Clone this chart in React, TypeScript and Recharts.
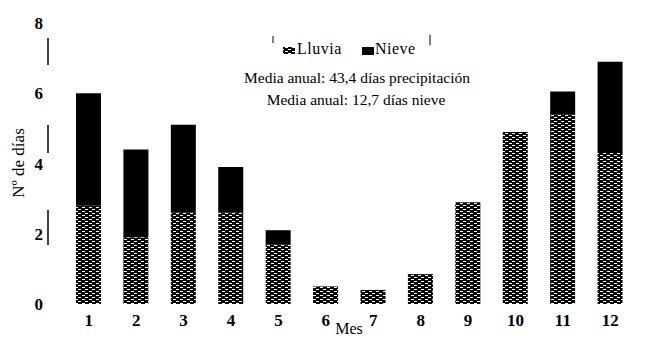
import React from 'react';
import { BarChart, Bar, XAxis, YAxis } from 'recharts';

const months = ['1', '2', '3', '4', '5', '6', '7', '8', '9', '10', '11', '12'];
const lluvia = [2.8, 1.9, 2.6, 2.6, 1.7, 0.5, 0.4, 0.85, 2.9, 4.9, 5.4, 4.3];
const nieve = [3.2, 2.5, 2.5, 1.3, 0.4, 0, 0, 0, 0, 0, 0.65, 2.6];
const yTicks = [0, 2, 4, 6, 8];
const seriesNames = ['Lluvia', 'Nieve'];
const note1 = 'Media anual: 43,4 días precipitación';
const note2 = 'Media anual: 12,7 días nieve';

const data = months.map((m, i) => ({ mes: m, Lluvia: lluvia[i], Nieve: nieve[i] }));

const FONT = '"Liberation Serif", "DejaVu Serif", serif';

const PatternDef = ({ id }: { id: string }) => (
  <pattern id={id} width={7} height={4} patternUnits="userSpaceOnUse">
    <rect x={0} y={0} width={7} height={4} fill="#050505" />
    <rect x={1} y={1} width={3} height={1} fill="#ffffff" />
    <rect x={5} y={3} width={2} height={1} fill="#ffffff" />
    <rect x={0} y={3} width={1} height={1} fill="#ffffff" />
  </pattern>
);

export default function App() {
  return (
    <div style={{ position: 'absolute', left: 0, top: 0, width: 648, height: 338, background: '#fff' }}>
      <BarChart
        width={648}
        height={338}
        data={data}
        margin={{ top: 23, right: 14, bottom: 4, left: 0 }}
        barSize={25}
      >
        <defs>
          <PatternDef id="lluviaFill" />
        </defs>
        <XAxis
          dataKey="mes"
          height={30}
          axisLine={false}
          tickLine={false}
          tickSize={0}
          tickMargin={10}
          interval={0}
          padding={{ left: 17, right: 0 }}
          tick={{ fontFamily: FONT, fontSize: 17, fontWeight: 'bold', fill: '#000' }}
        />
        <YAxis
          domain={[0, 8]}
          ticks={yTicks}
          width={48}
          axisLine={{ stroke: '#000', strokeWidth: 1.5, strokeDasharray: '0 15 27 60 28 57 35 400' }}
          tickLine={false}
          tickSize={0}
          tickMargin={5}
          tick={{ fontFamily: FONT, fontSize: 17, fontWeight: 'bold', fill: '#000' }}
        />
        <Bar dataKey="Lluvia" stackId="a" fill="url(#lluviaFill)" isAnimationActive={false} />
        <Bar dataKey="Nieve" stackId="a" fill="#000" isAnimationActive={false} />
        <g>
          <line x1={273} y1={36} x2={273} y2={43} stroke="#000" strokeWidth={1} />
          <rect x={283} y={47} width={12} height={7} fill="url(#lluviaFill)" />
          <text x={297} y={54} fontFamily={FONT} fontSize={16} letterSpacing={0.5} fill="#000">{seriesNames[0]}</text>
          <rect x={362} y={47} width={12} height={8} fill="#000" />
          <text x={375} y={54} fontFamily={FONT} fontSize={16} letterSpacing={0.5} fill="#000">{seriesNames[1]}</text>
          <line x1={430} y1={35} x2={430} y2={45} stroke="#000" strokeWidth={1} />
        </g>
        <text x={357} y={83} textAnchor="middle" fontFamily={FONT} fontSize={15.5} fill="#000">{note1}</text>
        <text x={356} y={105} textAnchor="middle" fontFamily={FONT} fontSize={15.5} fill="#000">{note2}</text>
        <text x={349} y={334} textAnchor="middle" fontFamily={FONT} fontSize={16} fill="#000">Mes</text>
        <text
          x={24}
          y={163}
          textAnchor="middle"
          transform="rotate(-90 24 163)"
          fontFamily={FONT}
          fontSize={17}
          fill="#000"
        >
          Nº de días
        </text>
      </BarChart>
    </div>
  );
}
